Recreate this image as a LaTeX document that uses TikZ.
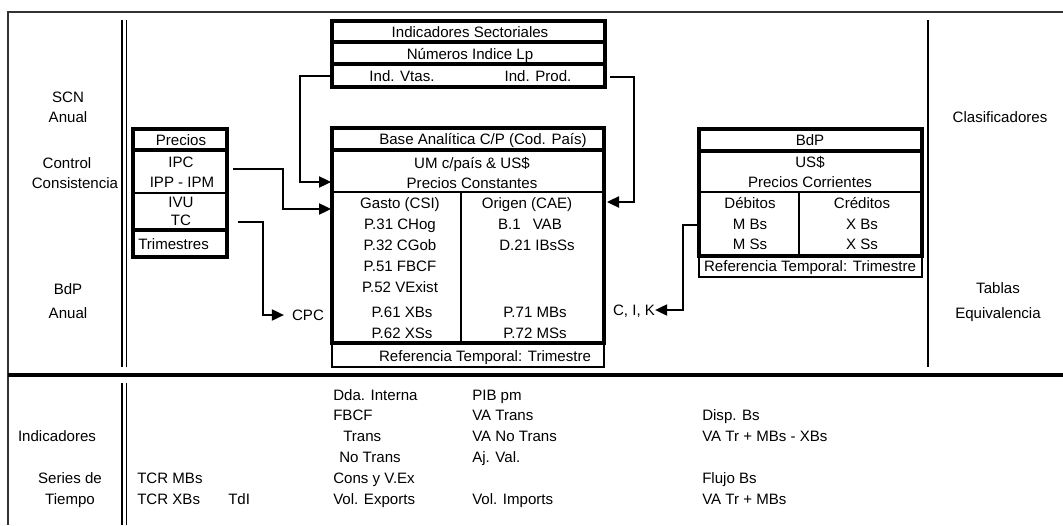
\documentclass[tikz,border=0pt]{standalone}
\usepackage{fontspec}
\setmainfont{Liberation Sans}
\usetikzlibrary{arrows.meta}
\begin{document}
\begin{tikzpicture}[x=0.75pt,y=-0.75pt,
  every node/.style={inner sep=0pt, text height=8pt, text depth=0pt, font=\fontsize{11.3}{13}\selectfont},
  lt/.style={anchor=west},
  thk/.style={line width=2.3pt},
  med/.style={line width=1.4pt},
  thn/.style={line width=1pt},
  frame/.style={line width=1pt, black!80},
  conn/.style={line width=0.8pt},
  arr/.style={conn,-{Triangle[length=9pt,width=8.5pt]}}]
\useasboundingbox (0,0) rectangle (1063,525);

% frame and separators
\coordinate (frTL) at (8,12);
\coordinate (frTR) at (1063,12);
\coordinate (frBL) at (8,525);
\draw[frame] (frTR) -- (frTL) -- (frBL);
\draw[line width=2.3pt] (8,375) -- (1063,375);
\draw[med] (122,20) -- (122,367);
\draw[med] (126.5,20) -- (126.5,367);
\draw[med] (122,383) -- (122,525);
\draw[med] (126.5,383) -- (126.5,525);
\draw[med] (928,20) -- (928,367);

% left labels
\node (scn) at (68,97) {SCN};
\node (scna) at (68,117) {Anual};
\node (ctl) at (67,163) {Control};
\node (cons) at (75,183) {Consistencia};
\node (bdpl) at (68,289) {BdP};
\node (bdpa) at (68,313) {Anual};

% right labels
\node (clas) at (1000,117) {Clasificadores};
\node (tab) at (998,288) {Tablas};
\node (equ) at (998,313) {Equivalencia};

% top box: Indicadores Sectoriales
\coordinate (tNW) at (332,21);
\coordinate (tSE) at (605,87);
\draw[thk] (tNW) rectangle (tSE);
\draw[thk] (332,42) -- (605,42);
\draw[thk] (332,64) -- (605,64);
\node (indsec) at (470,32) {Indicadores Sectoriales};
\node (numind) at (470,54) {Números Indice Lp};
\node (vtas) at (402,76) {Ind. Vtas.};
\node (prod) at (538,76) {Ind. Prod.};

% Precios box
\coordinate (pNW) at (133,129);
\coordinate (pSE) at (227,257);
\draw[thk] (pNW) rectangle (pSE);
\draw[thk] (133,150) -- (227,150);
\draw[med] (133,193) -- (227,193);
\draw[thk] (133,230) -- (227,230);
\node (prec) at (181,140) {Precios};
\node (ipc) at (181,162) {IPC};
\node (ipp) at (182,182) {IPP - IPM};
\node (ivu) at (181,202) {IVU};
\node (tc) at (181,220) {TC};
\node[lt] (trim) at (138,244) {Trimestres};

% main box
\coordinate (mNW) at (332,128);
\coordinate (mSE) at (604,343);
\draw[thk] (mNW) rectangle (mSE);
\draw[thk] (332,150) -- (604,150);
\draw[med] (332,192) -- (604,192);
\draw[med] (461,192) -- (461,343);
\draw[line width=1.2pt] (332,343) -- (332,367) -- (604,367) -- (604,343);
\node (base) at (483,139) {Base Analítica C/P (Cod. País)};
\node (um) at (472,163) {UM c/país \& US\$};
\node (pcons) at (472,183) {Precios Constantes};
\node (gasto) at (400,203) {Gasto (CSI)};
\node (p31) at (400,224) {P.31 CHog};
\node (p32) at (400,245) {P.32 CGob};
\node (p51) at (400,266) {P.51 FBCF};
\node (p52) at (400,287) {P.52 VExist};
\node (p61) at (402,312) {P.61 XBs};
\node (p62) at (402,333) {P.62 XSs};
\node (orig) at (527,203) {Origen (CAE)};
\node (b1) at (530,224) {B.1\hspace{9pt}VAB};
\node (d21) at (537,245) {D.21 IBsSs};
\node (p71) at (535,312) {P.71 MBs};
\node (p72) at (535,333) {P.72 MSs};
\node (refm) at (485,356) {Referencia Temporal: Trimestre};

% BdP box
\coordinate (bNW) at (699,129);
\coordinate (bSE) at (922,256);
\draw[thk] (bNW) rectangle (bSE);
\draw[thk] (699,151) -- (922,151);
\draw[med] (699,192) -- (922,192);
\draw[med] (799,192) -- (799,256);
\draw[line width=1.2pt] (699,256) -- (699,277) -- (922,277) -- (922,256);
\node (bdp) at (810,140) {BdP};
\node (usd) at (810,162) {US\$};
\node (pcor) at (810,182) {Precios Corrientes};
\node (deb) at (750,203) {Débitos};
\node (mbs) at (750,224) {M Bs};
\node (mss) at (750,244) {M Ss};
\node (cred) at (862,203) {Créditos};
\node (xbs) at (862,224) {X Bs};
\node (xss) at (862,244) {X Ss};
\node (refb) at (810,266) {Referencia Temporal: Trimestre};

% side labels of connectors
\node (cpc) at (308,315) {CPC};
\node (cik) at (634,310) {C, I, K};

% connectors
\coordinate (a1s) at (233,169);
\coordinate (a1e) at (331,209);
\draw[arr] (a1s) -- ++(50,0) |- (a1e);
\coordinate (a2s) at (238,222);
\draw[arr, shorten >=6pt] (a2s) -- ++(25,0) |- (cpc.west);
\coordinate (a3s) at (332,76);
\coordinate (a3e) at (331,182);
\draw[arr] (a3s) -- ++(-32,0) |- (a3e);
\coordinate (a4s) at (610,77);
\coordinate (a4e) at (607,202);
\draw[arr] (a4s) -- ++(24,0) |- (a4e);
\coordinate (a5s) at (697,225);
\draw[arr] (a5s) -- ++(-14,0) |- (cik.east);

% bottom section
\node (indic) at (57,436) {Indicadores};
\node (series) at (70,478) {Series de};
\node (tiempo) at (70,499) {Tiempo};
\node[lt] (tcrm) at (137,478) {TCR MBs};
\node[lt] (tcrx) at (137,499) {TCR XBs};
\node[lt] (tdi) at (228,499) {TdI};
\node[lt] (dda) at (333,395) {Dda. Interna};
\node[lt] (fbcf) at (333,415) {FBCF};
\node[lt] (trans) at (343,436) {Trans};
\node[lt] (notr) at (339,457) {No Trans};
\node[lt] (consv) at (333,478) {Cons y V.Ex};
\node[lt] (volx) at (333,499) {Vol. Exports};
\node[lt] (pib) at (472,395) {PIB pm};
\node[lt] (vat) at (472,415) {VA Trans};
\node[lt] (vant) at (472,436) {VA No Trans};
\node[lt] (ajv) at (472,457) {Aj. Val.};
\node[lt] (volm) at (472,499) {Vol. Imports};
\node[lt] (disp) at (702,415) {Disp. Bs};
\node[lt] (vatrx) at (702,436) {VA Tr + MBs - XBs};
\node[lt] (flujo) at (702,478) {Flujo Bs};
\node[lt] (vatr) at (702,499) {VA Tr + MBs};
\end{tikzpicture}
\end{document}
